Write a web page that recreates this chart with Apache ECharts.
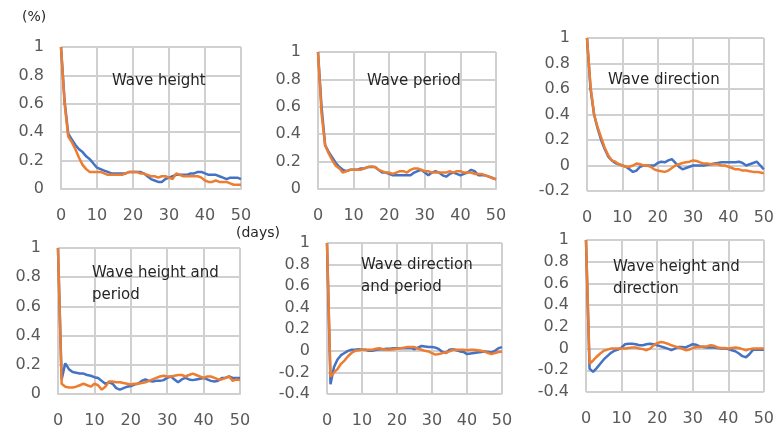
<!DOCTYPE html>
<html><head><meta charset="utf-8">
<script src="https://cdn.jsdelivr.net/npm/echarts@6/dist/echarts.min.js"></script>
<style>html,body{margin:0;padding:0;background:#fff}#c{width:777px;height:432px}</style>
</head><body><div id="c"></div>
<script>
const days = Array.from({length: 51}, (_, i) => i);
const xTicks = [0, 10, 20, 30, 40, 50];
const titles = ["Wave height", "Wave period", "Wave direction", "Wave height and\nperiod", "Wave direction\nand period", "Wave height and\ndirection"];
const yMins = [0, 0, -0.2, 0, -0.4, -0.4];

const heightBlue = [1.0,0.62,0.39,0.35,0.31,0.28,0.26,0.23,0.21,0.18,0.15,0.14,0.13,0.12,0.11,0.11,0.11,0.11,0.11,0.12,0.12,0.12,0.12,0.11,0.09,0.07,0.06,0.05,0.05,0.07,0.08,0.09,0.10,0.10,0.10,0.10,0.11,0.11,0.12,0.12,0.11,0.10,0.10,0.10,0.09,0.08,0.07,0.08,0.08,0.08,0.07];
const heightOrange = [1.0,0.6,0.37,0.33,0.28,0.22,0.17,0.14,0.12,0.12,0.12,0.12,0.11,0.10,0.10,0.10,0.10,0.10,0.11,0.12,0.12,0.12,0.11,0.11,0.10,0.09,0.09,0.08,0.09,0.09,0.08,0.07,0.11,0.10,0.09,0.09,0.09,0.09,0.09,0.08,0.06,0.05,0.05,0.06,0.05,0.05,0.05,0.04,0.03,0.03,0.03];
const periodBlue = [1.0,0.6,0.32,0.27,0.23,0.19,0.16,0.14,0.13,0.14,0.14,0.14,0.15,0.15,0.16,0.16,0.16,0.14,0.12,0.12,0.11,0.10,0.10,0.10,0.10,0.10,0.10,0.12,0.13,0.14,0.12,0.10,0.12,0.13,0.12,0.10,0.09,0.11,0.12,0.11,0.10,0.11,0.12,0.14,0.13,0.10,0.10,0.10,0.09,0.08,0.07];
const periodOrange = [1.0,0.55,0.32,0.26,0.21,0.17,0.15,0.12,0.13,0.14,0.14,0.14,0.14,0.15,0.16,0.165,0.16,0.14,0.13,0.12,0.12,0.11,0.12,0.13,0.13,0.12,0.14,0.15,0.15,0.14,0.13,0.13,0.12,0.12,0.12,0.12,0.12,0.13,0.12,0.13,0.13,0.12,0.12,0.12,0.11,0.11,0.11,0.10,0.09,0.08,0.07];
const directionBlue = [1.0,0.6,0.40,0.29,0.2,0.13,0.07,0.04,0.02,0.01,0.0,-0.01,-0.03,-0.05,-0.04,-0.01,0.0,0.0,0.0,0.0,0.02,0.03,0.025,0.04,0.05,0.02,-0.01,-0.03,-0.02,-0.01,0.0,0.0,0.0,0.0,0.005,0.01,0.015,0.02,0.025,0.025,0.025,0.025,0.025,0.03,0.02,0.0,0.01,0.02,0.03,0.0,-0.03];
const directionOrange = [1.0,0.62,0.40,0.30,0.22,0.14,0.08,0.04,0.03,0.01,0.0,-0.01,-0.01,0.0,0.015,0.01,0.0,0.0,-0.01,-0.03,-0.04,-0.045,-0.05,-0.04,-0.02,0.0,0.01,0.02,0.025,0.03,0.04,0.035,0.025,0.015,0.015,0.01,0.01,0.01,0.0,0.0,-0.01,-0.02,-0.03,-0.03,-0.04,-0.04,-0.045,-0.05,-0.05,-0.055,-0.06];
const hpBlue = [1.0,0.1,0.21,0.17,0.15,0.145,0.14,0.14,0.13,0.125,0.115,0.11,0.09,0.07,0.08,0.07,0.04,0.03,0.04,0.05,0.055,0.065,0.07,0.09,0.10,0.09,0.085,0.09,0.09,0.095,0.11,0.12,0.10,0.08,0.10,0.11,0.10,0.095,0.10,0.105,0.11,0.10,0.09,0.085,0.09,0.11,0.11,0.12,0.11,0.11,0.11];
const hpOrange = [1.0,0.07,0.05,0.045,0.045,0.05,0.06,0.07,0.06,0.05,0.07,0.06,0.03,0.05,0.085,0.085,0.08,0.08,0.075,0.07,0.065,0.07,0.07,0.075,0.08,0.09,0.10,0.11,0.12,0.125,0.12,0.12,0.125,0.13,0.13,0.12,0.13,0.14,0.13,0.12,0.11,0.12,0.12,0.11,0.10,0.10,0.11,0.12,0.09,0.10,0.095];
const dpBlue = [1.0,-0.31,-0.15,-0.08,-0.04,-0.02,0.0,0.01,0.01,0.015,0.01,0.01,0.0,0.0,0.01,0.015,0.015,0.02,0.02,0.025,0.025,0.025,0.025,0.025,0.025,0.015,0.03,0.045,0.04,0.035,0.035,0.03,0.015,-0.01,-0.02,0.01,0.015,0.005,-0.005,-0.01,-0.03,-0.025,-0.02,-0.015,-0.01,-0.005,-0.01,-0.015,0.0,0.025,0.035];
const dpOrange = [1.0,-0.24,-0.2,-0.17,-0.12,-0.09,-0.05,-0.02,0.0,0.005,0.01,0.01,0.01,0.01,0.02,0.025,0.015,0.01,0.01,0.015,0.02,0.025,0.03,0.035,0.035,0.035,0.02,0.01,0.0,-0.005,-0.02,-0.035,-0.03,-0.02,-0.015,-0.005,0.01,0.01,0.01,0.01,0.005,0.01,0.01,0.005,0.0,-0.005,-0.02,-0.03,-0.02,-0.01,-0.005];
const hdBlue = [1.0,-0.185,-0.215,-0.18,-0.14,-0.1,-0.07,-0.04,-0.02,-0.01,0.01,0.04,0.045,0.045,0.04,0.03,0.03,0.04,0.045,0.04,0.03,0.02,0.01,0.0,-0.015,0.0,0.015,0.015,0.01,0.025,0.04,0.035,0.02,0.015,0.01,0.01,0.01,0.005,0.0,0.0,-0.005,-0.015,-0.025,-0.045,-0.07,-0.08,-0.05,-0.01,-0.01,-0.01,-0.01];
const hdOrange = [1.0,-0.14,-0.11,-0.075,-0.045,-0.02,-0.01,0.0,0.0,0.0,0.0,0.0,0.005,0.01,0.01,0.0,-0.005,-0.015,0.0,0.03,0.05,0.06,0.055,0.045,0.03,0.02,0.01,0.0,-0.015,-0.01,0.005,0.015,0.015,0.02,0.02,0.03,0.025,0.01,0.005,0.005,0.0,0.005,0.01,0.005,-0.005,-0.015,-0.005,0.0,0.0,0.0,0.0];

const blueSets = [heightBlue, periodBlue, directionBlue, hpBlue, dpBlue, hdBlue];
const orangeSets = [heightOrange, periodOrange, directionOrange, hpOrange, dpOrange, hdOrange];

const grids = [
  {left: 61, top: 47, width: 180, height: 142},
  {left: 318, top: 52, width: 178, height: 137},
  {left: 587, top: 38, width: 180, height: 153},
  {left: 58, top: 248, width: 182, height: 146},
  {left: 327, top: 243, width: 175, height: 151},
  {left: 586, top: 240, width: 179, height: 152}
];
const textPos = [[112, 81], [367, 81], [608, 80], [92, 273], [361, 265], [613, 267]];

const FONT = 'DejaVu Sans';
const gridColor = '#d0d0d0';
const gridWidth = 2;
const option = {
  animation: false,
  backgroundColor: '#fff',
  grid: grids,
  xAxis: grids.map((g, i) => ({
    type: 'value', gridIndex: i, min: 0, max: 50, interval: 10,
    axisLine: {show: true, lineStyle: {color: gridColor, width: gridWidth}},
    axisTick: {show: false},
    splitLine: {show: true, lineStyle: {color: gridColor, width: gridWidth}},
    axisLabel: {color: '#595959', fontFamily: FONT, fontSize: 16, margin: 19,
      formatter: v => xTicks.includes(v) ? String(v) : ''}
  })),
  yAxis: grids.map((g, i) => ({
    type: 'value', gridIndex: i, min: yMins[i], max: 1, interval: 0.2,
    axisLine: {show: false},
    axisTick: {show: false},
    splitLine: {show: true, lineStyle: {color: gridColor, width: gridWidth}},
    axisLabel: {color: '#595959', fontFamily: FONT, fontSize: 16, margin: 17,
      formatter: v => String(Math.round(v * 10) / 10)}
  })),
  series: [],
  graphic: [
    {type: 'text', left: 22, top: 10, z: 10, style: {text: '(%)', fontFamily: FONT, fontSize: 14, fill: '#262626'}},
    {type: 'text', left: 236, top: 226, z: 10, style: {text: '(days)', fontFamily: FONT, fontSize: 14, fill: '#262626'}}
  ].concat(titles.map((t, i) => ({
    type: 'text', left: textPos[i][0], top: textPos[i][1] - 11, z: 10,
    style: {text: t, fontFamily: FONT, fontSize: 15, lineHeight: 22, fill: '#262626'}
  })))
};
for (let i = 0; i < 6; i++) {
  option.series.push({type: 'line', xAxisIndex: i, yAxisIndex: i, showSymbol: false,
    data: days.map((d, k) => [d, blueSets[i][k]]), lineStyle: {color: '#4472C4', width: 2.5}, z: 3});
  option.series.push({type: 'line', xAxisIndex: i, yAxisIndex: i, showSymbol: false,
    data: days.map((d, k) => [d, orangeSets[i][k]]), lineStyle: {color: '#ED7D31', width: 2.5}, z: 4});
}
const chart = echarts.init(document.getElementById('c'), null, {renderer: 'canvas'});
chart.setOption(option);
</script></body></html>
